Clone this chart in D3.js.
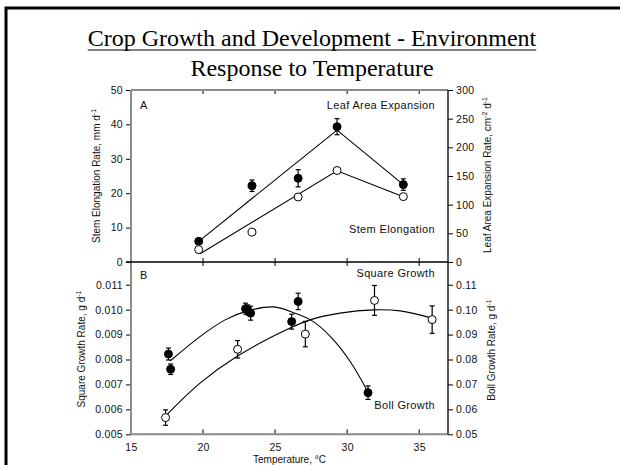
<!DOCTYPE html>
<html><head><meta charset="utf-8">
<script src="https://cdn.jsdelivr.net/npm/d3@7"></script>
<style>
html,body{margin:0;padding:0;background:#fff;}
svg{display:block;}
</style></head>
<body>
<svg id="c" width="620" height="465"></svg>
<script>
// ---------- data ----------
const xTicks = [15, 20, 25, 30, 35];
const leftTicksA = [0, 10, 20, 30, 40, 50];
const rightTicksA = [0, 50, 100, 150, 200, 250, 300];
const leftTicksB = [0.005, 0.006, 0.007, 0.008, 0.009, 0.010, 0.011];
const rightTicksB = [0.05, 0.06, 0.07, 0.08, 0.09, 0.10, 0.11];

// Panel A – leaf area expansion (filled, right axis, cm2 d-1)
const leafT = [19.7, 23.4, 26.6, 29.3, 33.9];
const leafRate = [36, 133, 146, 236, 135];
const leafErr = [4, 10, 15, 14, 10];
const leafFitT = [19.7, 29.3, 33.9];
const leafFitV = [36, 230, 135];
// Panel A – stem elongation (open, left axis, mm d-1)
const stemT = [19.7, 23.4, 26.6, 29.3, 33.9];
const stemRate = [3.6, 8.7, 18.9, 26.6, 19.0];
const stemFitT = [19.8, 29.3, 33.9];
const stemFitV = [2.4, 26.5, 19.0];

// Panel B – boll growth (filled, right axis, g d-1)
const bollT = [17.6, 17.75, 22.95, 23.1, 23.3, 26.15, 26.6, 31.45];
const bollRate = [0.0822, 0.0761, 0.1004, 0.0999, 0.0986, 0.0952, 0.1033, 0.0667];
const bollErr = [0.0024, 0.0021, 0.0022, 0.002, 0.0028, 0.003, 0.0033, 0.0027];
const bollFitT = [17.71, 19.79, 21.53, 23.03, 24.9, 26.27, 27.66, 29.05, 30.21, 31.37];
const bollFitV = [0.0794, 0.0892, 0.0959, 0.0994, 0.1011, 0.0988, 0.0952, 0.0879, 0.0792, 0.0678];
// Panel B – square growth (open, left axis, g d-1)
const squareT = [17.4, 22.4, 27.1, 31.9, 35.9];
const squareRate = [0.00567, 0.00841, 0.00902, 0.01037, 0.00960];
const squareErr = [0.00031, 0.00035, 0.00051, 0.0006, 0.00055];
const squareFitT = [17.48, 19.79, 22.34, 26.04, 27.43, 29.51, 31.83, 33.68, 35.88];
const squareFitV = [0.00578, 0.00705, 0.00812, 0.00926, 0.00959, 0.00986, 0.00999, 0.00995, 0.00966];

// ---------- layout ----------
const svg = d3.select("#c");
const L = 131, R = 448, TA = 90, MID = 262, BB = 434.3;
const sans = "'Liberation Sans', Arial, sans-serif";
const serif = "'Liberation Serif', 'Times New Roman', serif";
const axisGray = "#8a8a8a";

// frame
svg.append("rect").attr("x", 6).attr("y", 8).attr("width", 700).attr("height", 600)
  .attr("fill", "none").attr("stroke", "#000").attr("stroke-width", 3);

// title
const t1 = svg.append("text").attr("x", 312).attr("y", 46).attr("text-anchor", "middle")
  .attr("font-family", serif).attr("font-size", 24).text("Crop Growth and Development - Environment");
const w1 = t1.node().getComputedTextLength();
svg.append("line").attr("x1", 312 - w1 / 2).attr("x2", 312 + w1 / 2).attr("y1", 50).attr("y2", 50)
  .attr("stroke", "#000").attr("stroke-width", 1.2);
svg.append("text").attr("x", 312).attr("y", 76).attr("text-anchor", "middle")
  .attr("font-family", serif).attr("font-size", 24).text("Response to Temperature");

// scales
const x = d3.scaleLinear().domain([15, 37]).range([L, R]);
const yA = d3.scaleLinear().domain([0, 50]).range([MID, TA]);
const yAR = d3.scaleLinear().domain([0, 300]).range([MID, TA]);
const yB = d3.scaleLinear().domain([0.005, 0.012]).range([BB, BB - 7 * 24.93]);
const yBR = d3.scaleLinear().domain([0.05, 0.12]).range([BB, BB - 7 * 24.93]);

function styleAxis(g) {
  g.selectAll("text").attr("font-family", sans).attr("font-size", 10.5).attr("fill", "#111")
    .attr("letter-spacing", 0.3);
  g.selectAll(".tick line").attr("stroke", "#000").attr("stroke-width", 1);
  g.select(".domain").remove();
}

// left axes
const gAL = svg.append("g").attr("transform", `translate(${L},0)`)
  .call(d3.axisLeft(yA).tickValues(leftTicksA).tickSize(5).tickPadding(3).tickFormat(d3.format("d")));
styleAxis(gAL);
const gBL = svg.append("g").attr("transform", `translate(${L},0)`)
  .call(d3.axisLeft(yB).tickValues(leftTicksB).tickSize(5).tickPadding(3).tickFormat(d3.format(".3f")));
styleAxis(gBL);
// right axes
const gAR = svg.append("g").attr("transform", `translate(${R},0)`)
  .call(d3.axisRight(yAR).tickValues(rightTicksA).tickSize(5).tickPadding(3).tickFormat(d3.format("d")));
styleAxis(gAR);
const gBR = svg.append("g").attr("transform", `translate(${R},0)`)
  .call(d3.axisRight(yBR).tickValues(rightTicksB).tickSize(5).tickPadding(3).tickFormat(d3.format(".2f")));
styleAxis(gBR);
// bottom axis
const gX = svg.append("g").attr("transform", `translate(0,${BB})`)
  .call(d3.axisBottom(x).tickValues(xTicks).tickSize(0).tickPadding(9).tickFormat(d3.format("d")));
styleAxis(gX);
// inner x ticks
const inner = xTicks.filter(d => d > 15);
svg.append("g").selectAll("line.tb").data(inner).join("line")
  .attr("x1", d => x(d)).attr("x2", d => x(d)).attr("y1", BB).attr("y2", BB - 5).attr("stroke", "#000");
svg.append("g").selectAll("line.tm").data(inner).join("line")
  .attr("x1", d => x(d)).attr("x2", d => x(d)).attr("y1", MID - 4).attr("y2", MID + 4).attr("stroke", "#000");
svg.append("g").selectAll("line.tt").data(inner).join("line")
  .attr("x1", d => x(d)).attr("x2", d => x(d)).attr("y1", TA).attr("y2", TA + 4).attr("stroke", "#000");

// frame lines
svg.append("line").attr("x1", L).attr("x2", L).attr("y1", TA).attr("y2", BB).attr("stroke", axisGray).attr("stroke-width", 2);
svg.append("line").attr("x1", L).attr("x2", R).attr("y1", BB).attr("y2", BB).attr("stroke", axisGray).attr("stroke-width", 2);
svg.append("line").attr("x1", L).attr("x2", R).attr("y1", TA).attr("y2", TA).attr("stroke", axisGray).attr("stroke-width", 2);
svg.append("line").attr("x1", L - 5).attr("x2", R).attr("y1", MID).attr("y2", MID).attr("stroke", "#000").attr("stroke-width", 1.3);
svg.append("line").attr("x1", R).attr("x2", R).attr("y1", TA).attr("y2", BB).attr("stroke", "#000").attr("stroke-width", 1.3);

// axis titles
function vtitle(cx, cy, main, parts) {
  const t = svg.append("text").attr("transform", `translate(${cx},${cy}) rotate(-90)`)
    .attr("text-anchor", "middle").attr("font-family", sans).attr("font-size", 10).attr("fill", "#111");
  t.append("tspan").text(main);
  parts.forEach(p => {
    if (p.sup) t.append("tspan").attr("font-size", 7).attr("dy", -4).text(p.t);
    else t.append("tspan").attr("dy", 4).text(p.t);
  });
}
vtitle(100, 176, "Stem Elongation Rate, mm d", [{ sup: true, t: "-1" }]);
vtitle(491, 175, "Leaf Area Expansion Rate, cm", [{ sup: true, t: "-2" }, { t: " d" }, { sup: true, t: "-1" }]);
vtitle(85, 349, "Square Growth Rate, g d", [{ sup: true, t: "-1" }]);
vtitle(495, 350, "Boll Growth Rate, g d", [{ sup: true, t: "-1" }]);
svg.append("text").attr("x", x(26)).attr("y", 463).attr("text-anchor", "middle")
  .attr("font-family", sans).attr("font-size", 10).attr("fill", "#111").text("Temperature, °C");

// panel labels
function lab(px, py, txt, anchor) {
  svg.append("text").attr("x", px).attr("y", py).attr("text-anchor", anchor || "start")
    .attr("font-family", sans).attr("font-size", 11).attr("letter-spacing", 0.35).attr("fill", "#111").text(txt);
}
lab(140, 109, "A"); lab(140, 279, "B");
lab(435, 109, "Leaf Area Expansion", "end");
lab(435, 233, "Stem Elongation", "end");
lab(435, 277, "Square Growth", "end");
lab(435, 409, "Boll Growth", "end");

// fits
const lineGen = (ys) => d3.line().x(d => x(d[0])).y(d => ys(d[1]));
const fit = (ts, vs, ys, curve) => svg.append("path").datum(ts.map((t, i) => [t, vs[i]]))
  .attr("d", lineGen(ys).curve(curve || d3.curveLinear)).attr("fill", "none").attr("stroke", "#000").attr("stroke-width", 1.1);
fit(leafFitT, leafFitV, yAR);
fit(stemFitT, stemFitV, yA);
fit(bollFitT, bollFitV, yBR, d3.curveCatmullRom);
fit(squareFitT, squareFitV, yB, d3.curveCatmullRom);

// error bars + markers
function series(ts, vs, es, ys, filled) {
  const g = svg.append("g");
  const data = ts.map((t, i) => ({ t, v: vs[i], e: es ? es[i] : 0 }));
  if (es) {
    const eb = g.selectAll("g.eb").data(data).join("g").attr("stroke", "#000").attr("stroke-width", 1.2);
    eb.append("line").attr("x1", d => x(d.t)).attr("x2", d => x(d.t)).attr("y1", d => ys(d.v - d.e)).attr("y2", d => ys(d.v + d.e));
    eb.append("line").attr("x1", d => x(d.t) - 2.5).attr("x2", d => x(d.t) + 2.5).attr("y1", d => ys(d.v - d.e)).attr("y2", d => ys(d.v - d.e));
    eb.append("line").attr("x1", d => x(d.t) - 2.5).attr("x2", d => x(d.t) + 2.5).attr("y1", d => ys(d.v + d.e)).attr("y2", d => ys(d.v + d.e));
  }
  g.selectAll("circle").data(data).join("circle").attr("cx", d => x(d.t)).attr("cy", d => ys(d.v))
    .attr("r", 4).attr("fill", filled ? "#000" : "#fff").attr("stroke", "#000").attr("stroke-width", 1);
}
series(leafT, leafRate, leafErr, yAR, true);
series(stemT, stemRate, null, yA, false);
series(bollT, bollRate, bollErr, yBR, true);
series(squareT, squareRate, squareErr, yB, false);
</script>
</body></html>
